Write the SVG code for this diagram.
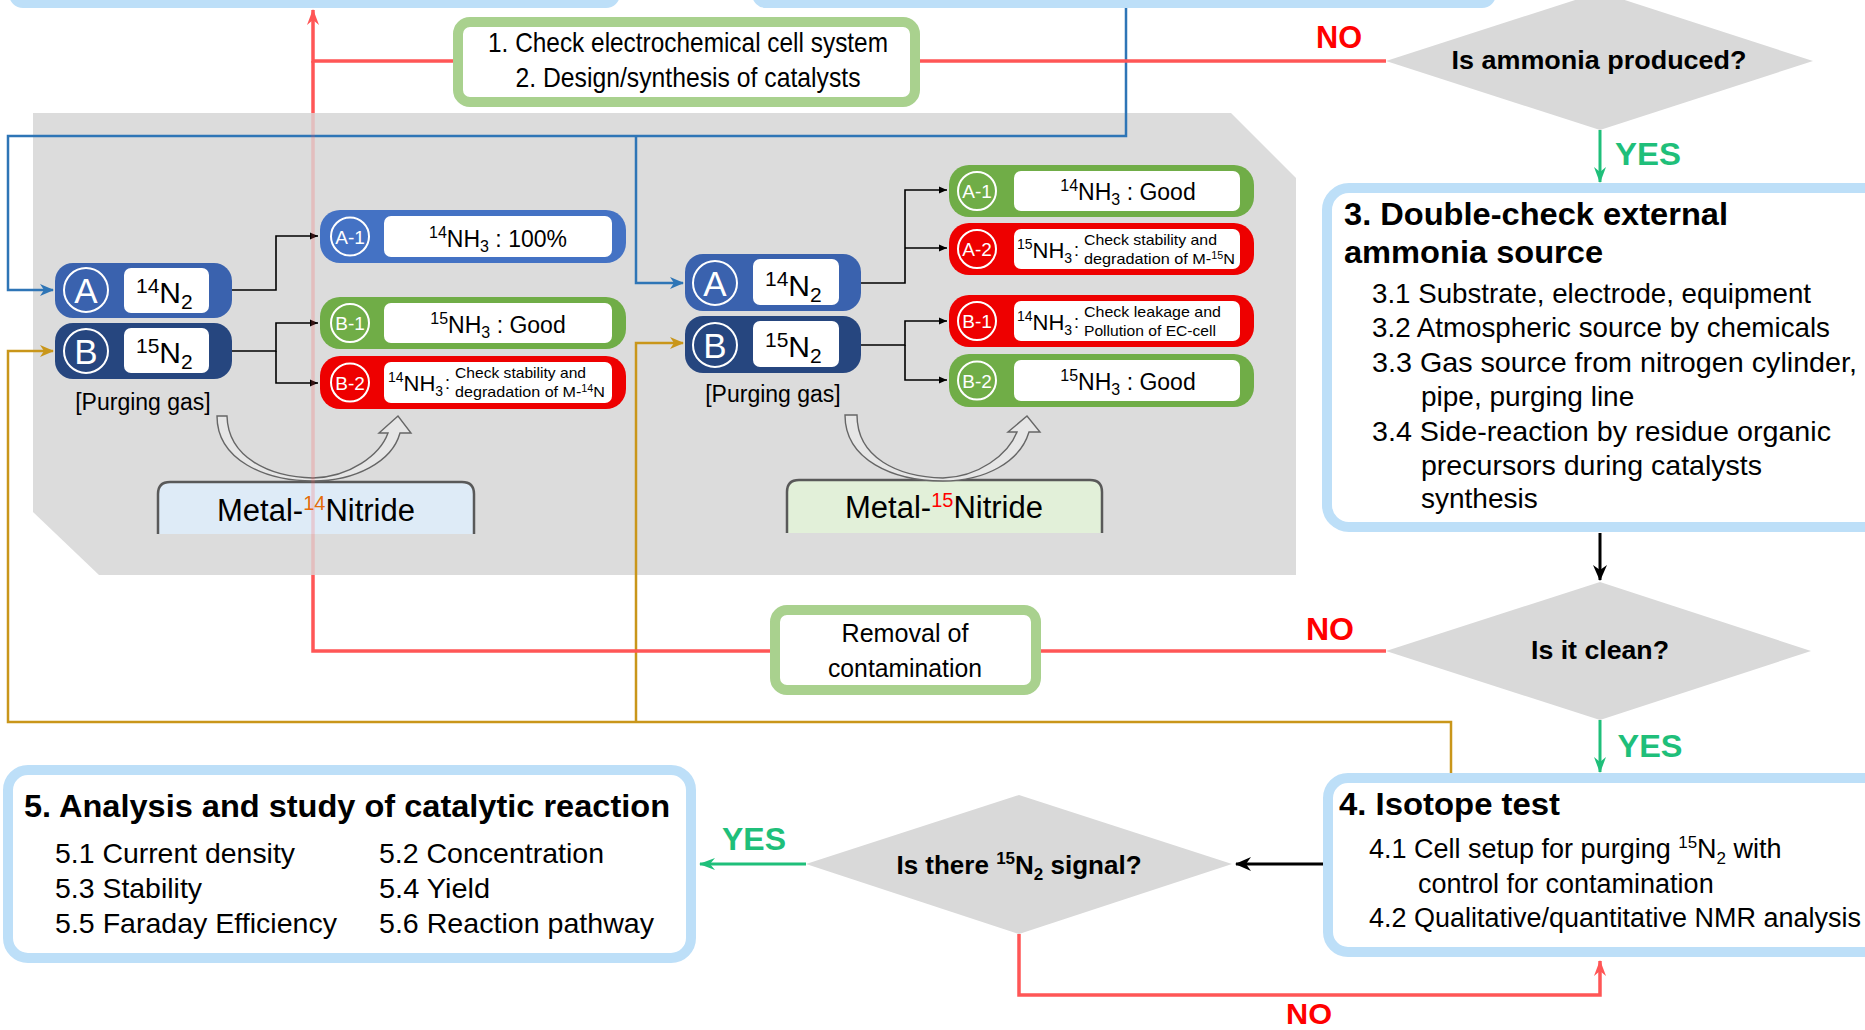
<svg xmlns="http://www.w3.org/2000/svg" width="1865" height="1030" viewBox="0 0 1865 1030">
<defs>
<style>
.t{font-family:"Liberation Sans",Arial,sans-serif;fill:#000}
.b{font-weight:bold}
.w{fill:#fff}
.bx{fill:#fff;stroke:#BDDFF8;stroke-width:10}
.gb{fill:#fff;stroke:#A9D18E;stroke-width:10}
.dia{fill:#D9D9D9}
.ring{fill:none;stroke:#fff;stroke-width:2}
.inner{fill:#fff}
.ln{fill:none;stroke:#000;stroke-width:1.6}
.red{fill:none;stroke:#FF5656;stroke-width:3.5}
.blue{fill:none;stroke:#2E75B6;stroke-width:2.5}
.org{fill:none;stroke:#C9961A;stroke-width:2.5}
.grn{fill:none;stroke:#1FBF7A;stroke-width:3}
.blk{fill:none;stroke:#000;stroke-width:3}
.metal{stroke:#595959;stroke-width:2.5}
.hollow{fill:#E6E6E6;stroke:#666;stroke-width:1.4;stroke-linejoin:miter}
</style>
<marker id="mS" viewBox="0 0 8 8" refX="8" refY="4" markerWidth="8" markerHeight="8" markerUnits="userSpaceOnUse" orient="auto"><path d="M0,0.5 L8,4 L0,7.5 z" fill="#000"/></marker>
<marker id="mK" viewBox="0 0 16 14" refX="15" refY="7" markerWidth="16" markerHeight="14" markerUnits="userSpaceOnUse" orient="auto"><path d="M0,0 L16,7 L0,14 L5,7 z" fill="#000"/></marker>
<marker id="mG" viewBox="0 0 16 12" refX="15" refY="6" markerWidth="16" markerHeight="12" markerUnits="userSpaceOnUse" orient="auto"><path d="M0,0 L16,6 L0,12 L5,6 z" fill="#1FBF7A"/></marker>
<marker id="mR" viewBox="0 0 16 12" refX="15" refY="6" markerWidth="16" markerHeight="12" markerUnits="userSpaceOnUse" orient="auto"><path d="M0,0 L16,6 L0,12 L5,6 z" fill="#FF5656"/></marker>
<marker id="mB" viewBox="0 0 14 12" refX="13" refY="6" markerWidth="14" markerHeight="12" markerUnits="userSpaceOnUse" orient="auto"><path d="M0,0 L14,6 L0,12 L4,6 z" fill="#2E75B6"/></marker>
<marker id="mO" viewBox="0 0 14 12" refX="13" refY="6" markerWidth="14" markerHeight="12" markerUnits="userSpaceOnUse" orient="auto"><path d="M0,0 L14,6 L0,12 L4,6 z" fill="#C9961A"/></marker>
</defs>
<rect x="0" y="0" width="1865" height="1030" fill="#fff"/>

<g id="box-top-left"><rect x="9" y="-40" width="611" height="48" rx="14" fill="#BDDFF8"/></g>
<g id="box-top-right"><rect x="752" y="-40" width="744" height="48" rx="14" fill="#BDDFF8"/></g>

<polygon id="panel" points="33,113 1231,113 1296,178 1296,575 99,575 33,512" fill="#DCDCDC"/>

<g id="node-check">
<rect class="gb" x="458" y="22" width="457" height="80" rx="12"/>
<text class="t" x="688" y="52" font-size="28" text-anchor="middle" textLength="400" lengthAdjust="spacingAndGlyphs">1. Check electrochemical cell system</text>
<text class="t" x="688" y="87" font-size="28" text-anchor="middle" textLength="345" lengthAdjust="spacingAndGlyphs">2. Design/synthesis  of catalysts</text>
</g>

<g id="node-q1">
<polygon class="dia" points="1600,-8 1813,61 1600,130 1386,61"/>
<text class="t b" x="1599" y="69" font-size="26" text-anchor="middle" textLength="295" lengthAdjust="spacingAndGlyphs">Is ammonia produced?</text>
</g>

<g id="node-step3">
<rect class="bx" x="1327" y="188" width="560" height="339" rx="22"/>
<text class="t b" x="1344" y="225" font-size="32" textLength="384" lengthAdjust="spacingAndGlyphs">3. Double-check external</text>
<text class="t b" x="1344" y="263" font-size="32" textLength="259" lengthAdjust="spacingAndGlyphs">ammonia source</text>
<text class="t" x="1372" y="303" font-size="28" textLength="439" lengthAdjust="spacingAndGlyphs">3.1 Substrate, electrode, equipment</text>
<text class="t" x="1372" y="337" font-size="28" textLength="458" lengthAdjust="spacingAndGlyphs">3.2 Atmospheric source by chemicals</text>
<text class="t" x="1372" y="372" font-size="28" textLength="485" lengthAdjust="spacingAndGlyphs">3.3 Gas source from nitrogen cylinder,</text>
<text class="t" x="1421" y="406" font-size="28">pipe, purging line</text>
<text class="t" x="1372" y="441" font-size="28" textLength="459" lengthAdjust="spacingAndGlyphs">3.4 Side-reaction by residue organic</text>
<text class="t" x="1421" y="475" font-size="28" textLength="341" lengthAdjust="spacingAndGlyphs">precursors during catalysts</text>
<text class="t" x="1421" y="508" font-size="28">synthesis</text>
</g>

<g id="node-q2">
<polygon class="dia" points="1600,582 1811,651 1600,720 1386,651"/>
<text class="t b" x="1600" y="659" font-size="26" text-anchor="middle" textLength="138" lengthAdjust="spacingAndGlyphs">Is it clean?</text>
</g>

<g id="node-removal">
<rect class="gb" x="775" y="610" width="261" height="80" rx="12"/>
<text class="t" x="905" y="642" font-size="26" text-anchor="middle" textLength="127" lengthAdjust="spacingAndGlyphs">Removal of</text>
<text class="t" x="905" y="677" font-size="26" text-anchor="middle" textLength="154" lengthAdjust="spacingAndGlyphs">contamination</text>
</g>

<g id="node-step4">
<rect class="bx" x="1328" y="778" width="560" height="174" rx="20"/>
<text class="t b" x="1339" y="815" font-size="32" textLength="221" lengthAdjust="spacingAndGlyphs">4. Isotope test</text>
<text class="t" x="1369" y="858" font-size="27">4.1 Cell setup for purging <tspan font-size="17" dy="-10">15</tspan><tspan dy="10">N</tspan><tspan font-size="17" dy="6">2</tspan><tspan dy="-6"> with</tspan></text>
<text class="t" x="1418" y="893" font-size="27">control for contamination</text>
<text class="t" x="1369" y="927" font-size="27" textLength="492" lengthAdjust="spacingAndGlyphs">4.2 Qualitative/quantitative NMR analysis</text>
</g>

<g id="node-q3">
<polygon class="dia" points="1019,795 1232,864 1019,934 806,864"/>
<text class="t b" x="1019" y="874" font-size="26" text-anchor="middle">Is there <tspan font-size="17" dy="-10">15</tspan><tspan dy="10">N</tspan><tspan font-size="17" dy="6">2</tspan><tspan dy="-6"> signal?</tspan></text>
</g>

<g id="node-step5">
<rect class="bx" x="8" y="770" width="683" height="188" rx="20"/>
<text class="t b" x="24" y="817" font-size="32" textLength="646" lengthAdjust="spacingAndGlyphs">5. Analysis and study of catalytic reaction</text>
<text class="t" x="55" y="863" font-size="28" textLength="240" lengthAdjust="spacingAndGlyphs">5.1 Current density</text>
<text class="t" x="55" y="898" font-size="28" textLength="147" lengthAdjust="spacingAndGlyphs">5.3 Stability</text>
<text class="t" x="55" y="933" font-size="28" textLength="282" lengthAdjust="spacingAndGlyphs">5.5 Faraday Efficiency</text>
<text class="t" x="379" y="863" font-size="28" textLength="225" lengthAdjust="spacingAndGlyphs">5.2 Concentration</text>
<text class="t" x="379" y="898" font-size="28" textLength="111" lengthAdjust="spacingAndGlyphs">5.4 Yield</text>
<text class="t" x="379" y="933" font-size="28" textLength="275" lengthAdjust="spacingAndGlyphs">5.6 Reaction pathway</text>
</g>

<!-- left set -->
<g id="node-L-A">
<rect x="55" y="263" width="177" height="55" rx="18" fill="#3A62AE"/>
<circle class="ring" cx="86" cy="290" r="22"/>
<text class="t w" x="86" y="303" font-size="35" text-anchor="middle">A</text>
<rect class="inner" x="124" y="268" width="85" height="45" rx="7"/>
<text class="t" x="136" y="303" font-size="30"><tspan font-size="21" dy="-10">14</tspan><tspan dy="10">N</tspan><tspan font-size="21" dy="6">2</tspan></text>
</g>
<g id="node-L-B">
<rect x="55" y="323" width="177" height="56" rx="18" fill="#26467F"/>
<circle class="ring" cx="86" cy="351" r="22"/>
<text class="t w" x="86" y="364" font-size="35" text-anchor="middle">B</text>
<rect class="inner" x="124" y="328" width="85" height="45" rx="7"/>
<text class="t" x="136" y="363" font-size="30"><tspan font-size="21" dy="-10">15</tspan><tspan dy="10">N</tspan><tspan font-size="21" dy="6">2</tspan></text>
</g>
<text class="t" x="143" y="410" font-size="23" text-anchor="middle" fill="#222">[Purging gas]</text>

<g id="node-L-A1">
<rect x="320" y="210" width="306" height="53" rx="20" fill="#4472C4"/>
<circle class="ring" cx="350" cy="236.5" r="19"/>
<text class="t w" x="350" y="243.5" font-size="19" text-anchor="middle">A-1</text>
<rect class="inner" x="384" y="216" width="228" height="41" rx="7"/>
<text class="t" x="498" y="247" font-size="23" text-anchor="middle"><tspan font-size="16" dy="-9">14</tspan><tspan dy="9">NH</tspan><tspan font-size="16" dy="5">3</tspan><tspan dy="-5"> : 100%</tspan></text>
</g>
<g id="node-L-B1">
<rect x="320" y="297" width="306" height="52" rx="20" fill="#70AD47"/>
<circle class="ring" cx="350" cy="323" r="19"/>
<text class="t w" x="350" y="330" font-size="19" text-anchor="middle">B-1</text>
<rect class="inner" x="384" y="303" width="228" height="40" rx="7"/>
<text class="t" x="498" y="333" font-size="23" text-anchor="middle"><tspan font-size="16" dy="-9">15</tspan><tspan dy="9">NH</tspan><tspan font-size="16" dy="5">3</tspan><tspan dy="-5"> : Good</tspan></text>
</g>
<g id="node-L-B2">
<rect x="320" y="356" width="306" height="53" rx="20" fill="#EE0000"/>
<circle class="ring" cx="350" cy="382.5" r="19"/>
<text class="t w" x="350" y="389.5" font-size="19" text-anchor="middle">B-2</text>
<rect class="inner" x="384" y="362" width="228" height="41" rx="7"/>
<text class="t" x="388" y="391" font-size="22"><tspan font-size="14" dy="-9">14</tspan><tspan dy="9">NH</tspan><tspan font-size="14" dy="5">3</tspan></text>
<text class="t" x="445" y="389" font-size="18">:</text>
<text class="t" x="455" y="378" font-size="15" textLength="131" lengthAdjust="spacingAndGlyphs">Check stability and</text>
<text class="t" x="455" y="397" font-size="15" textLength="150" lengthAdjust="spacingAndGlyphs">degradation of M-<tspan font-size="10" dy="-5">14</tspan><tspan dy="5">N</tspan></text>
</g>
<g id="node-metal14">
<path class="metal" d="M158,534 V494 Q158,482 170,482 H462 Q474,482 474,494 V534" fill="#DEEBF7"/>
<text class="t" x="316" y="521" font-size="31" text-anchor="middle" fill="#404040">Metal-<tspan font-size="20" dy="-11" fill="#E46C0A">14</tspan><tspan dy="11">Nitride</tspan></text>
</g>

<!-- right set -->
<g id="node-R-A">
<rect x="685" y="254" width="176" height="57" rx="18" fill="#3A62AE"/>
<circle class="ring" cx="715" cy="283" r="22"/>
<text class="t w" x="715" y="296" font-size="35" text-anchor="middle">A</text>
<rect class="inner" x="753" y="259" width="86" height="46" rx="7"/>
<text class="t" x="765" y="296" font-size="30"><tspan font-size="21" dy="-10">14</tspan><tspan dy="10">N</tspan><tspan font-size="21" dy="6">2</tspan></text>
</g>
<g id="node-R-B">
<rect x="685" y="316" width="176" height="57" rx="18" fill="#26467F"/>
<circle class="ring" cx="715" cy="345" r="22"/>
<text class="t w" x="715" y="358" font-size="35" text-anchor="middle">B</text>
<rect class="inner" x="753" y="321" width="86" height="46" rx="7"/>
<text class="t" x="765" y="357" font-size="30"><tspan font-size="21" dy="-10">15</tspan><tspan dy="10">N</tspan><tspan font-size="21" dy="6">2</tspan></text>
</g>
<text class="t" x="773" y="402" font-size="23" text-anchor="middle" fill="#222">[Purging gas]</text>

<g id="node-R-A1">
<rect x="949" y="165" width="305" height="52" rx="20" fill="#70AD47"/>
<circle class="ring" cx="977" cy="191" r="19"/>
<text class="t w" x="977" y="198" font-size="19" text-anchor="middle">A-1</text>
<rect class="inner" x="1014" y="171" width="226" height="40" rx="7"/>
<text class="t" x="1128" y="200" font-size="23" text-anchor="middle"><tspan font-size="16" dy="-9">14</tspan><tspan dy="9">NH</tspan><tspan font-size="16" dy="5">3</tspan><tspan dy="-5"> : Good</tspan></text>
</g>
<g id="node-R-A2">
<rect x="949" y="223" width="305" height="52" rx="20" fill="#EE0000"/>
<circle class="ring" cx="977" cy="249" r="19"/>
<text class="t w" x="977" y="256" font-size="19" text-anchor="middle">A-2</text>
<rect class="inner" x="1014" y="229" width="226" height="40" rx="7"/>
<text class="t" x="1017" y="258" font-size="22"><tspan font-size="14" dy="-9">15</tspan><tspan dy="9">NH</tspan><tspan font-size="14" dy="5">3</tspan></text>
<text class="t" x="1074" y="256" font-size="18">:</text>
<text class="t" x="1084" y="245" font-size="15" textLength="133" lengthAdjust="spacingAndGlyphs">Check stability and</text>
<text class="t" x="1084" y="264" font-size="15" textLength="151" lengthAdjust="spacingAndGlyphs">degradation of M-<tspan font-size="10" dy="-5">15</tspan><tspan dy="5">N</tspan></text>
</g>
<g id="node-R-B1">
<rect x="949" y="295" width="305" height="52" rx="20" fill="#EE0000"/>
<circle class="ring" cx="977" cy="321" r="19"/>
<text class="t w" x="977" y="328" font-size="19" text-anchor="middle">B-1</text>
<rect class="inner" x="1014" y="301" width="226" height="40" rx="7"/>
<text class="t" x="1017" y="330" font-size="22"><tspan font-size="14" dy="-9">14</tspan><tspan dy="9">NH</tspan><tspan font-size="14" dy="5">3</tspan></text>
<text class="t" x="1074" y="328" font-size="18">:</text>
<text class="t" x="1084" y="317" font-size="15" textLength="137" lengthAdjust="spacingAndGlyphs">Check leakage and</text>
<text class="t" x="1084" y="336" font-size="15" textLength="132" lengthAdjust="spacingAndGlyphs">Pollution of EC-cell</text>
</g>
<g id="node-R-B2">
<rect x="949" y="354" width="305" height="53" rx="20" fill="#70AD47"/>
<circle class="ring" cx="977" cy="380.5" r="19"/>
<text class="t w" x="977" y="387.5" font-size="19" text-anchor="middle">B-2</text>
<rect class="inner" x="1014" y="360" width="226" height="41" rx="7"/>
<text class="t" x="1128" y="390" font-size="23" text-anchor="middle"><tspan font-size="16" dy="-9">15</tspan><tspan dy="9">NH</tspan><tspan font-size="16" dy="5">3</tspan><tspan dy="-5"> : Good</tspan></text>
</g>
<g id="node-metal15">
<path class="metal" d="M787,533 V492 Q787,480 799,480 H1090 Q1102,480 1102,492 V533" fill="#E2F0D9"/>
<text class="t" x="944" y="518" font-size="31" text-anchor="middle" fill="#404040">Metal-<tspan font-size="20" dy="-11" fill="#FF0000">15</tspan><tspan dy="11">Nitride</tspan></text>
</g>

<g id="connectors">
<!-- hollow curved arrows -->
<path class="hollow" d="M217,416 C217,460 265,481 313,481 C355,481 392,462 400,433 L411,433 L398,416 L379,433 L388,433 C380,455 350,477 313,478 C270,477 228,458 227,416 Z"/>
<path class="hollow" d="M845,415 C845,460 893,481 943,481 C985,481 1020,462 1029,432 L1040,432 L1027,416 L1008,432 L1017,432 C1008,455 978,477 943,478 C898,477 857,458 857,415 Z"/>

<!-- black panel lines -->
<path class="ln" d="M232,290 H276 V236 H318" marker-end="url(#mS)"/>
<path class="ln" d="M232,351 H276 V323 H318" marker-end="url(#mS)"/>
<path class="ln" d="M276,351 V383 H318" marker-end="url(#mS)"/>
<path class="ln" d="M861,283 H905 V190 H947" marker-end="url(#mS)"/>
<path class="ln" d="M905,248 H947" marker-end="url(#mS)"/>
<path class="ln" d="M861,345 H905 V321 H947" marker-end="url(#mS)"/>
<path class="ln" d="M905,345 V380 H947" marker-end="url(#mS)"/>

<!-- blue -->
<path class="blue" d="M1126,8 V136 H8 V290 H53" marker-end="url(#mB)"/>
<path class="blue" d="M636,136 V283 H683" marker-end="url(#mB)"/>
<!-- orange -->
<path class="org" d="M1451,773 V722 H8 V351 H53" marker-end="url(#mO)"/>
<path class="org" d="M636,722 V343 H683" marker-end="url(#mO)"/>

<!-- red -->
<path class="red" d="M1386,61 H920"/>
<path class="red" d="M453,61 H313 V10" marker-end="url(#mR)"/>
<path class="red" d="M1386,651 H1041"/>
<path class="red" d="M770,651 H313 V575"/>
<path class="red" d="M313,575 V113" stroke-opacity="0.22" stroke-width="3"/>
<path class="red" d="M313,113 V61"/>
<path class="red" d="M1019,934 V995 H1600 V961" marker-end="url(#mR)"/>

<!-- black main -->
<path class="blk" d="M1600,533 V580" marker-end="url(#mK)"/>
<path class="blk" d="M1323,864 H1236" marker-end="url(#mK)"/>

<!-- green -->
<path class="grn" d="M1600,130 V182" marker-end="url(#mG)"/>
<path class="grn" d="M1600,720 V772" marker-end="url(#mG)"/>
<path class="grn" d="M806,864 H700" marker-end="url(#mG)"/>

<!-- labels -->
<text class="t b" x="1339" y="48" font-size="31" text-anchor="middle" style="fill:#FF0000" textLength="46" lengthAdjust="spacingAndGlyphs">NO</text>
<text class="t b" x="1648" y="165" font-size="31" text-anchor="middle" style="fill:#1FBF7A" textLength="66" lengthAdjust="spacingAndGlyphs">YES</text>
<text class="t b" x="1330" y="640" font-size="31" text-anchor="middle" style="fill:#FF0000" textLength="48" lengthAdjust="spacingAndGlyphs">NO</text>
<text class="t b" x="1650" y="757" font-size="31" text-anchor="middle" style="fill:#1FBF7A" textLength="65" lengthAdjust="spacingAndGlyphs">YES</text>
<text class="t b" x="754" y="850" font-size="31" text-anchor="middle" style="fill:#1FBF7A" textLength="64" lengthAdjust="spacingAndGlyphs">YES</text>
<text class="t b" x="1309" y="1024" font-size="30" text-anchor="middle" style="fill:#FF0000" textLength="46" lengthAdjust="spacingAndGlyphs">NO</text>
</g>
</svg>
